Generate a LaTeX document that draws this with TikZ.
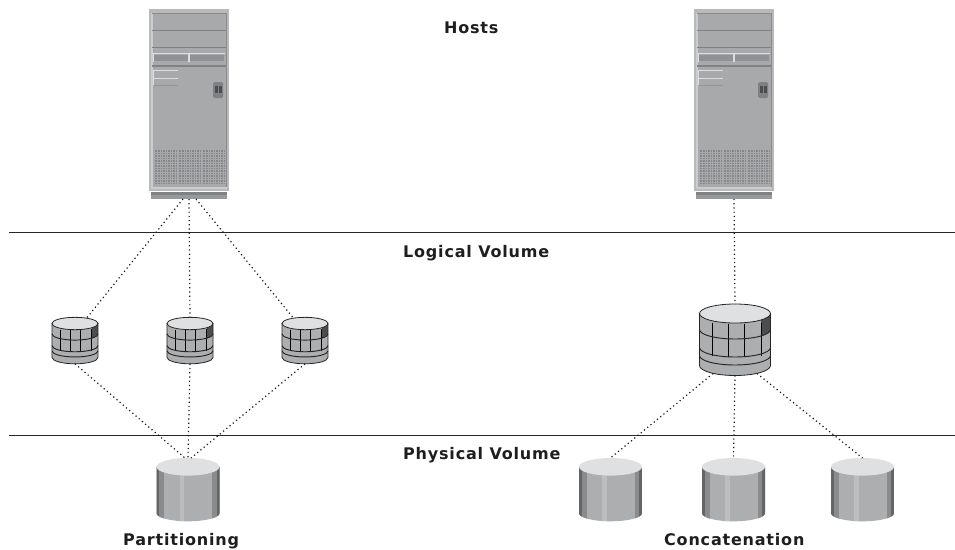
\documentclass[tikz,border=0pt]{standalone}
\usepackage{fontspec}
\setmainfont{DejaVu Sans}[LetterSpace=5]
\definecolor{txt}{HTML}{1E1E1E}
\definecolor{frameg}{HTML}{B8B9BB}
\definecolor{panelg}{HTML}{A8A9AB}
\definecolor{lineg}{HTML}{808184}
\definecolor{midg}{HTML}{8A8B8D}
\definecolor{lightg}{HTML}{DCDDDE}
\definecolor{stripeg}{HTML}{CBCCCE}
\definecolor{darkg}{HTML}{4D4D4F}
\definecolor{ventg}{HTML}{85868A}
\definecolor{topg}{HTML}{DFE0E1}
\definecolor{sideg}{HTML}{ADAEB0}
\definecolor{bandg}{HTML}{BCBDBF}
\definecolor{edgeg}{HTML}{646567}
\tikzset{
  x=1pt,y=-1pt,
  lbl/.style={font=\fontsize{16}{18}\selectfont\bfseries,text=txt,inner sep=0pt,anchor=base west},
  rule/.style={draw=black!85,line width=0.9pt},
  link/.style={draw=black!90,line width=1.2pt,dash pattern=on 1.2pt off 3pt},
  server/.pic={
    % origin at the top-left corner of the cabinet
    \fill[frameg] (0,0) rectangle (80,182);
    \fill[panelg] (3,4) rectangle (77,179);
    \fill[lineg] (2,183) rectangle (78,186);
    \fill[midg!70!frameg] (2,186) rectangle (78,190);
    \fill[stripeg] (2,4) rectangle (3.5,180);
    \fill[midg] (76.5,4) rectangle (78,179);
    \fill[midg] (3,3.5) rectangle (78,4.5);
    \fill[lineg] (3,20.5) rectangle (77,21.5);
    \fill[lineg] (3,37.5) rectangle (77,38.5);
    \fill[lightg] (3,44) rectangle (76,45);
    \fill[lineg!60!panelg] (5,46) rectangle (39,52);
    \fill[lineg!60!panelg] (41,46) rectangle (75,52);
    \fill[lightg] (4,45) rectangle (5,53);
    \fill[lightg] (39,45) rectangle (41,53);
    \fill[lineg] (3,56) rectangle (77,57.5);
    \fill[lightg] (4,61) rectangle (29,62);
    \fill[lightg] (4,69) rectangle (29,70);
    \fill[lightg] (4,61) rectangle (5,76);
    \fill[lineg!50!panelg] (5,76) rectangle (29,77);
    \fill[lineg,rounded corners=1.5pt] (64,73) rectangle (74,89);
    \fill[darkg] (66,77) rectangle (69,84);
    \fill[darkg] (70,77) rectangle (73,84);
    \foreach \xa/\xb in {6/28,30/52,54/76}{
      \fill[ventg] (\xa,141) rectangle (\xb,175);
      \foreach \yy in {143,145.5,148,150.5,153,155.5,158,160.5,163,165.5,168,170.5,173}{
        \draw[panelg,line width=.9pt] (\xa,\yy) -- (\xb,\yy);
      }
      \pgfmathsetmacro{\xs}{\xa+2.5}
      \pgfmathsetmacro{\xt}{\xa+5}
      \foreach \xx in {\xs,\xt,...,\xb}{
        \draw[panelg,line width=.9pt] (\xx,141) -- (\xx,175);
      }
    }
    \fill[stripeg] (3,178) rectangle (78,180);
    \coordinate (-l) at (34,190);
    \coordinate (-c) at (40,190);
    \coordinate (-r) at (47,190);
  },
  griddisk/.pic={
    % origin at the centre of the top ellipse
    \begin{scope}
      \clip (-35.5,0) -- (-35.5,52) arc[start angle=180,end angle=0,x radius=35.5,y radius=10] -- (35.5,0) -- cycle;
      \fill[sideg] (-35.5,-1) rectangle (35.5,63);
      \fill[darkg] (26,0) -- (26,26) -- (36,24) -- (36,0) -- cycle;
      \fill[sideg] (-35.5,16) arc[start angle=180,end angle=0,x radius=35.5,y radius=9.5] -- (36,63) -- (-36,63) -- cycle;
    \end{scope}
    \foreach \xx/\tt/\bb in {-23/9.5/42,-7/10/43.5,9/10/43.5,26/9/42}{
      \draw[black,line width=.95pt] (\xx,\tt) -- (\xx,\bb);
    }
    \foreach \yy in {16,34,42}{
      \draw[black!85,line width=.95pt] (-35.5,\yy) arc[start angle=180,end angle=0,x radius=35.5,y radius=9.5];
    }
    \draw[black!85,line width=.8pt,fill=topg] (0,0) ellipse[x radius=35.5,y radius=9.5];
    \draw[black!85,line width=.8pt] (-35.5,0) -- (-35.5,52) arc[start angle=180,end angle=0,x radius=35.5,y radius=10] -- (35.5,0);
    \coordinate (-t) at (0,-9.5);
    \coordinate (-tr) at (18,-8.5);
    \coordinate (-tl) at (-18,-8.5);
    \coordinate (-b) at (0,62);
    \coordinate (-bl) at (-3,62);
    \coordinate (-br) at (3,62);
    \coordinate (-bll) at (-22,60);
    \coordinate (-brr) at (22,60);
  },
  plaindisk/.pic={
    % origin at the centre of the top ellipse
    \begin{scope}
      \clip (-31.5,0) -- (-31.5,46.5) arc[start angle=180,end angle=0,x radius=31.5,y radius=8] -- (31.5,0) -- cycle;
      \fill[sideg] (-32,-1) rectangle (32,56);
      \fill[edgeg] (-32,-1) rectangle (-29,56);
      \fill[midg] (-29,-1) rectangle (-24,56);
      \fill[bandg] (-8.5,-1) rectangle (-4,56);
      \fill[midg] (24,-1) rectangle (28.5,56);
      \fill[edgeg] (28.5,-1) rectangle (32,56);
    \end{scope}
    \fill[topg] (0,0) ellipse[x radius=31.5,y radius=8.8];
    \coordinate (-t) at (0,-8.8);
    \coordinate (-tl) at (-3,-8.8);
    \coordinate (-tr) at (3,-8.8);
  }
}
\begin{document}
\begin{tikzpicture}
\useasboundingbox (0,0) rectangle (955,549);
\draw[rule] (9,232) -- (955,232);
\draw[rule] (9,435) -- (955,435);

\pic (hostA) at (149,9) {server};
\pic (hostB) at (694,9) {server};

\pic[scale=.65] (lvA) at (75,323.5) {griddisk};
\pic[scale=.65] (lvB) at (190,323.5) {griddisk};
\pic[scale=.65] (lvC) at (305,323.5) {griddisk};
\pic (lvD) at (735,313.5) {griddisk};

\pic (pvA) at (188,466.8) {plaindisk};
\pic (pvB) at (610.5,466.8) {plaindisk};
\pic (pvC) at (733.5,466.8) {plaindisk};
\pic (pvD) at (862.5,466.8) {plaindisk};

\draw[link] (hostA-l) -- (lvA-tr);
\draw[link] (hostA-c) -- (lvB-t);
\draw[link] (hostA-r) -- (lvC-tl);
\draw[link] (hostB-c) -- (lvD-t);

\draw[link] (lvA-b) -- (pvA-tl);
\draw[link] (lvB-b) -- (pvA-t);
\draw[link] (lvC-b) -- (pvA-tr);

\draw[link] (lvD-bll) -- (pvB-t);
\draw[link] (lvD-b) -- (pvC-t);
\draw[link] (lvD-brr) -- (pvD-t);

\node[lbl] (hosts) at (444,33) {Hosts};
\node[lbl] (logical) at (403,257) {Logical Volume};
\node[lbl] (physical) at (403,459) {Physical Volume};
\node[lbl] (part) at (123,545) {Partitioning};
\node[lbl] (conc) at (664,545) {Concatenation};
\end{tikzpicture}
\end{document}
